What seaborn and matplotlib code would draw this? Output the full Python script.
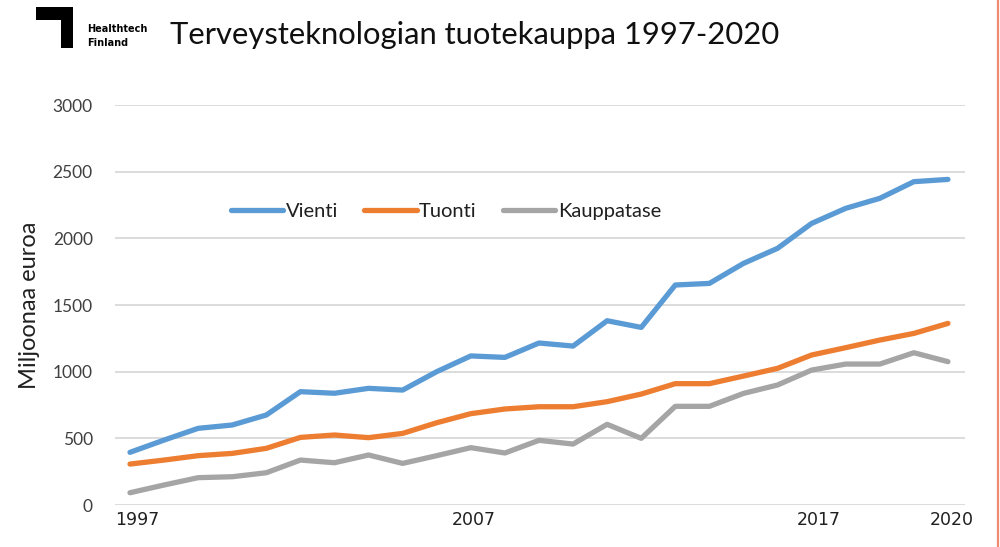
import matplotlib
matplotlib.use("Agg")
import matplotlib.pyplot as plt
from matplotlib.patches import Polygon
from matplotlib.lines import Line2D
import seaborn as sns
import pandas as pd
import numpy as np

# ---- data ----
series_names = ["Vienti", "Tuonti", "Kauppatase"]
vienti = [395, 487, 575, 600, 675, 850, 838, 875, 862, 1000, 1118, 1107, 1215,
          1192, 1382, 1332, 1650, 1662, 1812, 1925, 2112, 2225, 2300, 2425, 2442]
tuonti = [307, 337, 370, 387, 425, 507, 525, 505, 537, 617, 685, 720, 737,
          737, 775, 832, 910, 910, 967, 1025, 1125, 1180, 1237, 1287, 1362]
kauppatase = [92, 150, 205, 212, 242, 337, 317, 375, 312, 370, 430, 390, 485,
              457, 605, 500, 740, 740, 837, 900, 1012, 1057, 1057, 1142, 1075]
x_labels = ["1997", "2007", "2017", "2020"]
x_label_pos = [0.2, 10.1, 20.2, 24.1]
y_ticks = [0, 500, 1000, 1500, 2000, 2500, 3000]

colors = {"Vienti": "#5B9BD5", "Tuonti": "#ED7D31", "Kauppatase": "#A5A5A5"}

sns.set_theme(style="white")
plt.rcParams["font.family"] = ["Lato", "DejaVu Sans"]

idx = np.arange(len(vienti))
df = pd.concat([
    pd.DataFrame({"i": idx, "value": v, "series": n})
    for n, v in zip(series_names, [vienti, tuonti, kauppatase])
])

W, H = 1000, 547
fig = plt.figure(figsize=(W / 100, H / 100), dpi=100)
fig.patch.set_facecolor("white")

def fx(px):
    return px / W

def fy(py):
    return 1 - py / H

ax = fig.add_axes([fx(115), fy(505), fx(965) - fx(115), (505 - 105) / H])
sns.lineplot(data=df, x="i", y="value", hue="series", palette=colors,
             hue_order=series_names, linewidth=3.8, sort=False, ax=ax,
             solid_capstyle="round")

ax.set_xlim(-0.44, 24.5)
ax.set_ylim(0, 3000)
ax.set_yticks(y_ticks)
ax.set_yticklabels([str(t) for t in y_ticks], fontsize=12.5, color="#404040")
ax.set_xticks(x_label_pos)
ax.set_xticklabels(x_labels, fontsize=12.5, color="#202020",
                   family=["Liberation Sans Narrow", "DejaVu Sans"])
ax.tick_params(axis="y", length=0, pad=16)
ax.tick_params(axis="x", length=0, pad=4)
ax.grid(axis="y", color="#D9D9D9", linewidth=1.3)
ax.set_axisbelow(True)
for s in ax.spines.values():
    s.set_visible(False)
ax.set_xlabel("")
ax.set_ylabel("Miljoonaa euroa", fontsize=17, color="#202020", labelpad=9)

leg = ax.legend(loc="center", bbox_to_anchor=(fx(446), fy(211)),
                bbox_transform=fig.transFigure, ncol=3, frameon=False,
                fontsize=14.5, handlelength=2.6, handletextpad=0.12,
                columnspacing=1.3)
for t in leg.get_texts():
    t.set_color("#202020")
for h in leg.get_lines():
    h.set_linewidth(3.8)

# title
fig.text(fx(170), fy(35), "Terveysteknologian tuotekauppa 1997-2020",
         fontsize=22.3, color="#101010", ha="left", va="center")

# logo
logo = Polygon([(fx(36), fy(7)), (fx(73), fy(7)), (fx(73), fy(48)),
                (fx(61), fy(48)), (fx(61), fy(20)), (fx(36), fy(20))],
               closed=True, facecolor="black", edgecolor="none",
               transform=fig.transFigure)
fig.patches.append(logo)
fig.text(fx(87), fy(29.5), "Healthtech", fontsize=7, fontweight="bold",
         family="DejaVu Sans", ha="left", va="center", color="black")
fig.text(fx(87), fy(43.5), "Finland", fontsize=7, fontweight="bold",
         family="DejaVu Sans", ha="left", va="center", color="black")

# right edge accent line
fig.lines.append(Line2D([fx(998.3), fx(998.3)], [0, 1], color="#F08A70",
                        linewidth=1.6, transform=fig.transFigure))

fig.savefig("out.png", dpi=100, facecolor="white")
